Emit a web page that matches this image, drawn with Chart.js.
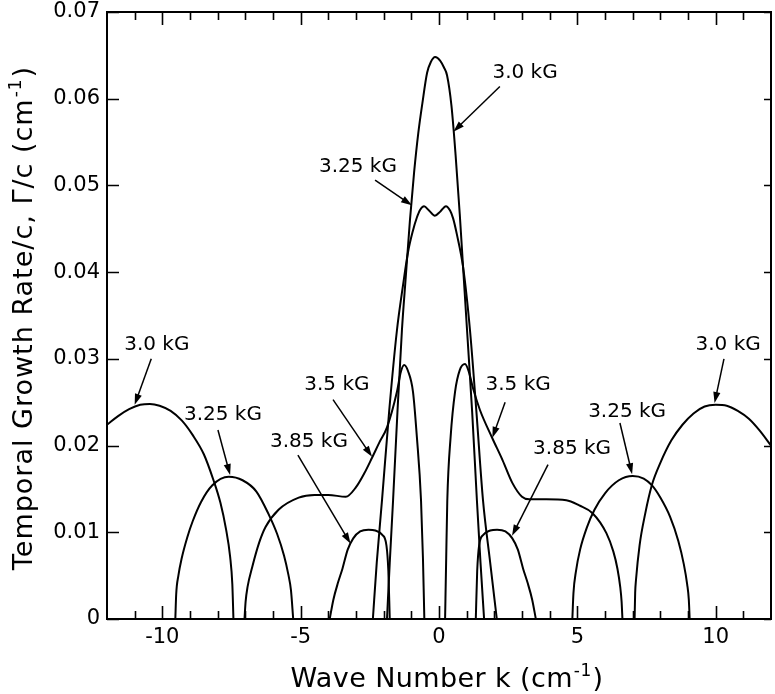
<!DOCTYPE html>
<html>
<head>
<meta charset="utf-8">
<script src="https://cdn.jsdelivr.net/npm/chart.js@4.4.1/dist/chart.umd.min.js"></script>
<style>
  html, body { margin: 0; padding: 0; background: #fff; }
  canvas { display: block; }
</style>
</head>
<body>
<canvas id="growth" width="775" height="694"></canvas>
<script>
// wave number k (cm^-1) and temporal growth rate Γ/c (cm^-1), one pair of arrays per branch

// 3.0 kG
var k30Left  = [-12, -11.6, -11.2, -10.8, -10.45, -10.1, -9.7, -9.3, -8.9, -8.5, -8.15, -7.9, -7.7, -7.55, -7.47, -7.43];
var g30Left  = [0.0224, 0.0234, 0.0242, 0.0247, 0.0248, 0.0246, 0.0240, 0.0229, 0.0212, 0.0190, 0.0160, 0.0134, 0.0104, 0.0072, 0.0040, 0];
var k30Mid   = [-1.88, -1.78, -1.66, -1.5, -1.34, -1.2, -1.05, -0.9, -0.75, -0.6, -0.43, -0.3, -0.14, 0.04, 0.18, 0.29, 0.45, 0.6, 0.75, 0.87, 1.01, 1.2, 1.37, 1.5, 1.63];
var g30Mid   = [0, 0.0065, 0.0137, 0.0240, 0.0333, 0.0395, 0.0460, 0.0515, 0.0560, 0.0595, 0.0630, 0.0642, 0.0648, 0.0644, 0.0636, 0.0627, 0.0592, 0.0535, 0.0467, 0.0406, 0.0335, 0.0238, 0.0137, 0.0065, 0];
var k30Right = [7.07, 7.09, 7.12, 7.25, 7.45, 7.7, 8.0, 8.4, 8.8, 9.2, 9.6, 10.0, 10.4, 10.8, 11.2, 11.6, 12];
var g30Right = [0, 0.0030, 0.0045, 0.0085, 0.0121, 0.0155, 0.0180, 0.0206, 0.0224, 0.0237, 0.0245, 0.0247, 0.0246, 0.0240, 0.0231, 0.0217, 0.0200];

// 3.25 kG
var k325Left  = [-9.53, -9.5, -9.42, -9.3, -9.1, -8.9, -8.6, -8.2, -7.6, -7.1, -6.6, -6.16, -5.85, -5.6, -5.45, -5.35, -5.27];
var g325Left  = [0, 0.0028, 0.0050, 0.0070, 0.0094, 0.0113, 0.0135, 0.0154, 0.0164, 0.0160, 0.0147, 0.0121, 0.0098, 0.0073, 0.0052, 0.0033, 0];
var k325Mid   = [-2.39, -2.25, -2.06, -1.8, -1.52, -1.3, -1.12, -0.95, -0.8, -0.68, -0.54, -0.36, -0.15, 0.05, 0.25, 0.4, 0.51, 0.65, 0.87, 1.12, 1.35, 1.59, 1.85, 2.09];
var g325Mid   = [0, 0.0065, 0.0137, 0.0240, 0.0333, 0.0385, 0.0423, 0.0447, 0.0463, 0.0472, 0.0476, 0.0471, 0.0465, 0.0470, 0.0476, 0.0471, 0.0462, 0.0443, 0.0406, 0.0333, 0.0240, 0.0137, 0.0065, 0];
var k325Right = [4.82, 4.86, 4.95, 5.1, 5.35, 5.62, 6.0, 6.5, 7.0, 7.4, 7.7, 8.0, 8.35, 8.65, 8.85, 8.97, 9.03, 9.06];
var g325Right = [0, 0.0030, 0.0055, 0.0080, 0.0106, 0.0126, 0.0145, 0.0160, 0.0165, 0.0162, 0.0154, 0.0140, 0.0118, 0.0090, 0.0063, 0.0040, 0.0022, 0];

// 3.5 kG
var k35Left  = [-7.03, -6.99, -6.92, -6.75, -6.5, -6.27, -5.8, -5.07, -4.5, -4.0, -3.37, -3.0, -2.7, -2.42, -2.15, -1.88, -1.52, -1.38, -1.26, -1.12, -0.94, -0.8, -0.65, -0.58, -0.53];
var g35Left  = [0, 0.0020, 0.0037, 0.0060, 0.0088, 0.0106, 0.0126, 0.0140, 0.0143, 0.0143, 0.0141, 0.0152, 0.0168, 0.0186, 0.0204, 0.0221, 0.0262, 0.0285, 0.0293, 0.0286, 0.0262, 0.0210, 0.0137, 0.0070, 0];
var k35Right = [0.22, 0.26, 0.3, 0.42, 0.58, 0.75, 0.94, 1.08, 1.23, 1.48, 1.92, 2.3, 2.65, 3.0, 3.26, 3.88, 4.6, 5.07, 5.55, 6.05, 6.3, 6.45, 6.55, 6.6, 6.63];
var g35Right = [0, 0.0070, 0.0137, 0.0210, 0.0262, 0.0287, 0.0294, 0.0285, 0.0266, 0.0241, 0.0209, 0.0183, 0.0157, 0.0141, 0.0138, 0.0138, 0.0137, 0.0131, 0.0122, 0.0099, 0.0078, 0.0058, 0.0037, 0.0020, 0];

// 3.85 kG
var k385Left  = [-3.95, -3.82, -3.65, -3.49, -3.3, -3.1, -2.85, -2.55, -2.3, -2.05, -1.9, -1.83, -1.78];
var g385Left  = [0, 0.0022, 0.0042, 0.0058, 0.0080, 0.0093, 0.0101, 0.0103, 0.0102, 0.0097, 0.0085, 0.0055, 0];
var k385Right = [1.33, 1.38, 1.45, 1.6, 1.85, 2.1, 2.4, 2.65, 2.85, 3.04, 3.2, 3.37, 3.5];
var g385Right = [0, 0.0055, 0.0085, 0.0097, 0.0102, 0.0103, 0.0101, 0.0093, 0.0080, 0.0058, 0.0042, 0.0022, 0];

// axis ticks
var xTicks = [-10, -5, 0, 5, 10];
var yTicks = [0, 0.01, 0.02, 0.03, 0.04, 0.05, 0.06, 0.07];

// field labels: text centre, arrow start, arrow tip (all in k, Γ/c)
var notes = [
  { text: '3.0 kG',  at: [3.11, 0.0630],   from: [2.20, 0.0614],   to: [0.52, 0.0562] },
  { text: '3.25 kG', at: [-2.93, 0.0521],  from: [-2.31, 0.0506],  to: [-0.98, 0.0477] },
  { text: '3.0 kG',  at: [-10.2, 0.0316],  from: [-10.4, 0.0300],  to: [-11.0, 0.0247] },
  { text: '3.25 kG', at: [-7.81, 0.0235],  from: [-7.99, 0.0218],  to: [-7.55, 0.0166] },
  { text: '3.85 kG', at: [-4.7, 0.0204],   from: [-5.1, 0.0189],   to: [-3.2, 0.0087] },
  { text: '3.5 kG',  at: [-3.69, 0.0270],  from: [-3.83, 0.0253],  to: [-2.42, 0.0187] },
  { text: '3.5 kG',  at: [2.86, 0.0270],   from: [2.39, 0.0250],   to: [1.93, 0.0209] },
  { text: '3.85 kG', at: [4.81, 0.0196],   from: [3.94, 0.0178],   to: [2.64, 0.0096] },
  { text: '3.25 kG', at: [6.8, 0.0239],    from: [6.54, 0.0226],   to: [6.98, 0.0167] },
  { text: '3.0 kG',  at: [10.45, 0.0316],  from: [10.3, 0.0300],   to: [9.96, 0.0249] }
];

var FONT = '"DejaVu Sans", "Liberation Sans", sans-serif';

function curve(ks, gs) {
  return {
    data: ks.map(function(k, i){ return { x: k, y: gs[i] }; }),
    borderColor: '#000',
    borderWidth: 2,
    pointRadius: 0,
    fill: false,
    cubicInterpolationMode: 'monotone'
  };
}

var datasets = [
  curve(k30Left, g30Left), curve(k30Mid, g30Mid), curve(k30Right, g30Right),
  curve(k325Left, g325Left), curve(k325Mid, g325Mid), curve(k325Right, g325Right),
  curve(k35Left, g35Left), curve(k35Right, g35Right),
  curve(k385Left, g385Left), curve(k385Right, g385Right)
];

function arrow(ctx, x0, y0, x1, y1) {
  var ang = Math.atan2(y1 - y0, x1 - x0), len = 11, half = 3.6;
  ctx.beginPath();
  ctx.moveTo(x0, y0);
  ctx.lineTo(x1 - Math.cos(ang) * len * 0.6, y1 - Math.sin(ang) * len * 0.6);
  ctx.stroke();
  ctx.beginPath();
  ctx.moveTo(x1, y1);
  ctx.lineTo(x1 - Math.cos(ang) * len + Math.sin(ang) * half, y1 - Math.sin(ang) * len - Math.cos(ang) * half);
  ctx.lineTo(x1 - Math.cos(ang) * len - Math.sin(ang) * half, y1 - Math.sin(ang) * len + Math.cos(ang) * half);
  ctx.closePath();
  ctx.fill();
}

// title with a raised "-1" before the closing bracket
function supTitle(ctx, head, sup, tail, size, spacing) {
  ctx.letterSpacing = spacing + 'px';
  ctx.font = size + 'px ' + FONT;
  var w1 = ctx.measureText(head).width;
  var w3 = ctx.measureText(tail).width;
  ctx.font = Math.round(size * 0.62) + 'px ' + FONT;
  var w2 = ctx.measureText(sup).width;
  var x = -(w1 + w2 + w3) / 2;
  ctx.textAlign = 'left';
  ctx.textBaseline = 'alphabetic';
  ctx.font = size + 'px ' + FONT;
  ctx.fillText(head, x, 0);
  ctx.font = Math.round(size * 0.62) + 'px ' + FONT;
  ctx.fillText(sup, x + w1 + 1, -size * 0.42);
  ctx.font = size + 'px ' + FONT;
  ctx.fillText(tail, x + w1 + w2 + 2, 0);
}

var frame = {
  id: 'frame',
  afterDatasetsDraw: function(chart) {
    var ctx = chart.ctx, a = chart.chartArea;
    var xs = chart.scales.x, ys = chart.scales.y;
    ctx.save();
    ctx.strokeStyle = '#000';
    ctx.fillStyle = '#000';
    ctx.lineWidth = 2;
    ctx.strokeRect(a.left, a.top, a.right - a.left, a.bottom - a.top);

    // inward ticks: every unit of k, longer at multiples of 5
    ctx.lineWidth = 1.6;
    ctx.beginPath();
    for (var k = -11; k <= 11; k++) {
      var px = Math.round(xs.getPixelForValue(k)) + 0.5;
      var len = k % 5 === 0 ? 13 : 8;
      ctx.moveTo(px, a.bottom); ctx.lineTo(px, a.bottom - len);
      ctx.moveTo(px, a.top); ctx.lineTo(px, a.top + len);
    }
    yTicks.forEach(function(v) {
      var py = Math.round(ys.getPixelForValue(v)) + 0.5;
      ctx.moveTo(a.left, py); ctx.lineTo(a.left + 12, py);
      ctx.moveTo(a.right, py); ctx.lineTo(a.right - 7, py);
    });
    ctx.stroke();

    // field labels with arrows
    ctx.lineWidth = 1.5;
    ctx.font = '20px ' + FONT;
    ctx.textAlign = 'center';
    ctx.textBaseline = 'middle';
    notes.forEach(function(n) {
      ctx.fillText(n.text, xs.getPixelForValue(n.at[0]), ys.getPixelForValue(n.at[1]));
      arrow(ctx,
        xs.getPixelForValue(n.from[0]), ys.getPixelForValue(n.from[1]),
        xs.getPixelForValue(n.to[0]), ys.getPixelForValue(n.to[1]));
    });

    // axis titles
    ctx.save();
    ctx.translate((a.left + a.right) / 2 + 7, 687);
    supTitle(ctx, 'Wave Number k (cm', '-1', ')', 27, 0.4);
    ctx.restore();

    ctx.save();
    ctx.translate(32, 319);
    ctx.rotate(-Math.PI / 2);
    supTitle(ctx, 'Temporal Growth Rate/c, \u0393/c (cm', '-1', ')', 27, 1);
    ctx.restore();

    ctx.restore();
  }
};

new Chart(document.getElementById('growth'), {
  type: 'line',
  data: { datasets: datasets },
  options: {
    responsive: false,
    animation: false,
    events: [],
    layout: { padding: { top: 12, right: 4, left: 0, bottom: 0 } },
    plugins: { legend: { display: false }, tooltip: { enabled: false } },
    scales: {
      x: {
        type: 'linear',
        min: -12,
        max: 12,
        grid: { display: false, drawTicks: false },
        border: { display: false },
        afterBuildTicks: function(s) { s.ticks = xTicks.map(function(v){ return { value: v }; }); },
        afterFit: function(s) { s.height = 75; s.paddingLeft = 0; s.paddingRight = 0; },
        ticks: {
          color: '#000',
          font: { family: FONT, size: 21 },
          padding: 6,
          maxRotation: 0,
          autoSkip: false,
          callback: function(v) { return String(v); }
        }
      },
      y: {
        type: 'linear',
        min: 0,
        max: 0.07,
        grid: { display: false, drawTicks: false },
        border: { display: false },
        afterBuildTicks: function(s) { s.ticks = yTicks.map(function(v){ return { value: v }; }); },
        afterFit: function(s) { s.width = 107; s.paddingTop = 0; s.paddingBottom = 0; },
        ticks: {
          color: '#000',
          font: { family: FONT, size: 21 },
          padding: 7,
          callback: function(v) { return v === 0 ? '0' : v.toFixed(2); }
        }
      }
    }
  },
  plugins: [frame]
});
</script>
</body>
</html>
